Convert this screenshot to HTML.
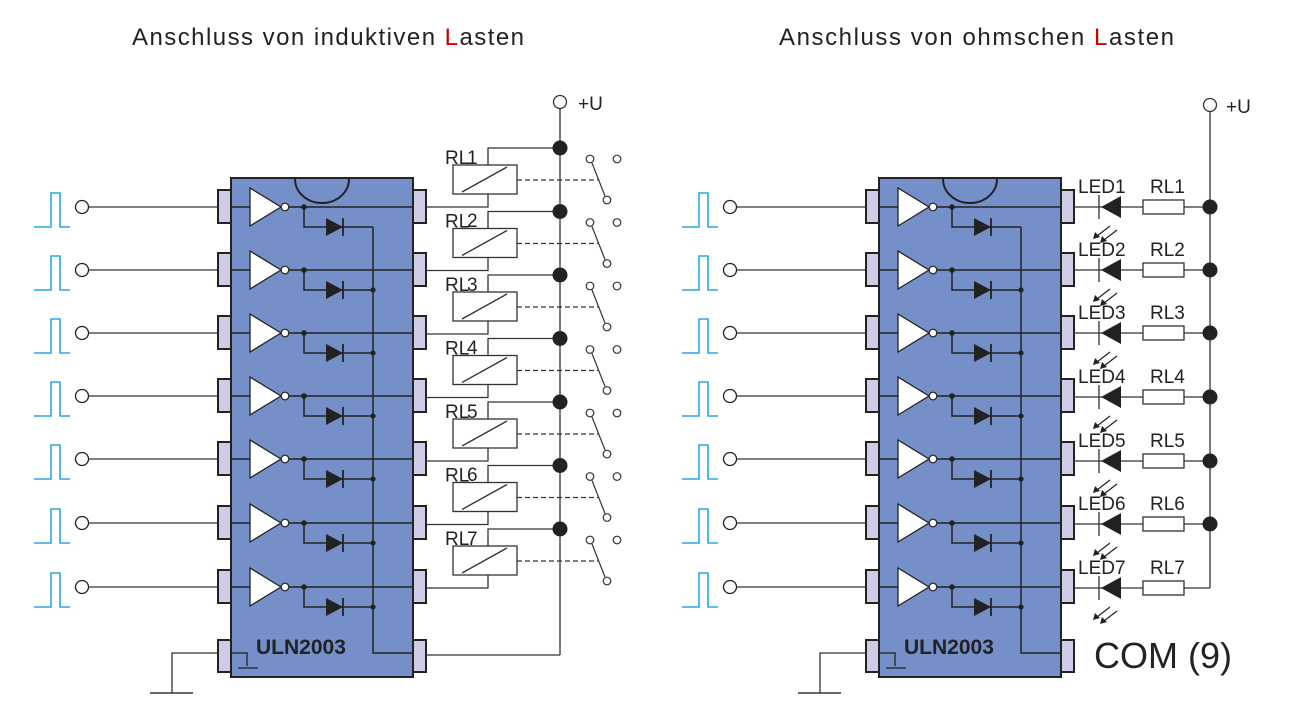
<!DOCTYPE html>
<html><head><meta charset="utf-8"><style>
html,body{margin:0;padding:0;background:#fff;}
svg{display:block;font-family:"Liberation Sans",sans-serif;}
</style></head><body>
<svg width="1290" height="725" viewBox="0 0 1290 725" xmlns="http://www.w3.org/2000/svg">
<defs>
  <g id="row">
    <polyline points="34,227 51,227 51,193 60,193 60,227 70,227" fill="none" stroke="#29a8e0" stroke-width="1.6" transform="translate(0,-207)"/>
    <circle cx="82" cy="0" r="6.5" fill="#fff" stroke="#222" stroke-width="1.3"/>
    <line x1="89" y1="0" x2="219" y2="0" stroke="#333" stroke-width="1.3"/>
    <rect x="218" y="-17" width="13" height="33" fill="#d0cce8" stroke="#222" stroke-width="2"/>
    <line x1="231" y1="0" x2="250" y2="0" stroke="#222" stroke-width="1.5"/>
    <polygon points="250,-19 250,19 281,0" fill="#fff" stroke="#222" stroke-width="1.3"/>
    <circle cx="285" cy="0" r="3.8" fill="#fff" stroke="#222" stroke-width="1.2"/>
    <line x1="289" y1="0" x2="414" y2="0" stroke="#222" stroke-width="1.5"/>
    <circle cx="304" cy="0" r="2.8" fill="#222"/>
    <polyline points="304,0 304,20 373,20" fill="none" stroke="#222" stroke-width="1.5"/>
    <polygon points="326,11 326,29 343,20" fill="#222"/>
    <line x1="343" y1="11" x2="343" y2="29" stroke="#222" stroke-width="1.8"/>
    <rect x="413" y="-17" width="13" height="33" fill="#d0cce8" stroke="#222" stroke-width="2"/>
  </g>
  <g id="chip">
    <rect x="231" y="178" width="182" height="499" fill="#7590c9" stroke="#222" stroke-width="2"/>
    <path d="M295,179 A27,24 0 0 0 349,179" fill="none" stroke="#222" stroke-width="2"/>
    <use href="#row" transform="translate(0,207)"/>
    <use href="#row" transform="translate(0,270)"/>
    <use href="#row" transform="translate(0,333)"/>
    <use href="#row" transform="translate(0,396)"/>
    <use href="#row" transform="translate(0,459)"/>
    <use href="#row" transform="translate(0,523)"/>
    <use href="#row" transform="translate(0,587)"/>
    <g fill="#222"><circle cx="373" cy="290" r="2.6"/><circle cx="373" cy="353" r="2.6"/><circle cx="373" cy="416" r="2.6"/><circle cx="373" cy="479" r="2.6"/><circle cx="373" cy="543" r="2.6"/><circle cx="373" cy="607" r="2.6"/></g>
    <polyline points="373,227 373,653 414,653" fill="none" stroke="#222" stroke-width="1.5"/>
    <rect x="218" y="640" width="13" height="32" fill="#d0cce8" stroke="#222" stroke-width="2"/>
    <rect x="413" y="640" width="13" height="32" fill="#d0cce8" stroke="#222" stroke-width="2"/>
    <polyline points="231,653 247,653 247,666" fill="none" stroke="#222" stroke-width="1.3"/>
    <line x1="238" y1="668" x2="258" y2="668" stroke="#222" stroke-width="1.3"/>
    <polyline points="218,653 172,653 172,693" fill="none" stroke="#333" stroke-width="1.3"/>
    <line x1="150" y1="693" x2="193" y2="693" stroke="#333" stroke-width="1.5"/>
    <text x="256" y="654" font-size="21" font-weight="bold" fill="#222">ULN2003</text>
  </g>
  <g id="relay">
    <text x="445" y="164" font-size="19" fill="#222">RL</text>
    <rect x="453" y="165" width="64" height="29" fill="#fff" stroke="#333" stroke-width="1.3"/>
    <line x1="462" y1="192" x2="507" y2="167" stroke="#333" stroke-width="1.3"/>
    <polyline points="488,165 488,148 560,148" fill="none" stroke="#333" stroke-width="1.3"/>
    <polyline points="488,194 488,207 426,207" fill="none" stroke="#333" stroke-width="1.3"/>
    <line x1="517" y1="180" x2="598" y2="180" stroke="#333" stroke-width="1.2" stroke-dasharray="5,3"/>
    <circle cx="590" cy="159" r="3.8" fill="#fff" stroke="#333" stroke-width="1.2"/>
    <circle cx="617" cy="159" r="3.8" fill="#fff" stroke="#333" stroke-width="1.2"/>
    <circle cx="607" cy="200" r="3.8" fill="#fff" stroke="#333" stroke-width="1.2"/>
    <line x1="592" y1="163" x2="605" y2="196" stroke="#333" stroke-width="1.2"/>
    <circle cx="560" cy="148" r="7.5" fill="#222"/>
  </g>
  <g id="ledbase">
    <line x1="1074" y1="0" x2="1210" y2="0" stroke="#333" stroke-width="1.3"/>
    <line x1="1099" y1="-12" x2="1099" y2="12" stroke="#333" stroke-width="1.3"/>
    <polygon points="1101,0 1121,-11 1121,11" fill="#222"/>
    <rect x="1143" y="-7" width="41" height="14" fill="#fff" stroke="#333" stroke-width="1.3"/>
    <g stroke="#222" stroke-width="1.2" fill="#222">
      <line x1="1110" y1="19" x2="1097" y2="29"/><line x1="1117" y1="23" x2="1104" y2="33"/>
      <polygon points="1093,32 1095,25 1100,30" stroke="none"/><polygon points="1100,36 1102,29 1107,34" stroke="none"/>
    </g>
  </g>
  <g id="led">
    <use href="#ledbase"/>
    <circle cx="1210" cy="0" r="7.5" fill="#222"/>
  </g>
</defs>

<text x="132" y="45" font-size="24" fill="#222" textLength="392" lengthAdjust="spacing">Anschluss von induktiven <tspan fill="#c00">L</tspan>asten</text>
<text x="779" y="45" font-size="24" fill="#222" textLength="395" lengthAdjust="spacing">Anschluss von ohmschen <tspan fill="#c00">L</tspan>asten</text>

<!-- LEFT -->
<use href="#chip"/>
<line x1="560" y1="108" x2="560" y2="655" stroke="#333" stroke-width="1.3"/>
<polyline points="560,655 426,655" fill="none" stroke="#333" stroke-width="1.3"/>
<circle cx="560" cy="102" r="6.5" fill="#fff" stroke="#333" stroke-width="1.3"/>
<text x="578" y="110" font-size="19" fill="#222">+U</text>
<use href="#relay"/>
<use href="#relay" transform="translate(0,63.5)"/>
<use href="#relay" transform="translate(0,127)"/>
<use href="#relay" transform="translate(0,190.5)"/>
<use href="#relay" transform="translate(0,254)"/>
<use href="#relay" transform="translate(0,317.5)"/>
<use href="#relay" transform="translate(0,381)"/>
<g font-size="19" fill="#222">
<text x="467" y="164">1</text><text x="467" y="227">2</text><text x="467" y="291">3</text><text x="467" y="354">4</text><text x="467" y="418">5</text><text x="467" y="481">6</text><text x="467" y="545">7</text>
</g>

<!-- RIGHT -->
<use href="#chip" transform="translate(648,0)"/>
<line x1="1210" y1="111" x2="1210" y2="588" stroke="#333" stroke-width="1.3"/>
<circle cx="1210" cy="105" r="6.5" fill="#fff" stroke="#333" stroke-width="1.3"/>
<text x="1226" y="113" font-size="19" fill="#222">+U</text>
<use href="#led" transform="translate(0,207)"/>
<use href="#led" transform="translate(0,270)"/>
<use href="#led" transform="translate(0,333)"/>
<use href="#led" transform="translate(0,397)"/>
<use href="#led" transform="translate(0,461)"/>
<use href="#led" transform="translate(0,524)"/>
<use href="#ledbase" transform="translate(0,588)"/>
<g font-size="19" fill="#222">
<text x="1078" y="193">LED1</text><text x="1150" y="193">RL1</text>
<text x="1078" y="256">LED2</text><text x="1150" y="256">RL2</text>
<text x="1078" y="319">LED3</text><text x="1150" y="319">RL3</text>
<text x="1078" y="383">LED4</text><text x="1150" y="383">RL4</text>
<text x="1078" y="447">LED5</text><text x="1150" y="447">RL5</text>
<text x="1078" y="510">LED6</text><text x="1150" y="510">RL6</text>
<text x="1078" y="574">LED7</text><text x="1150" y="574">RL7</text>
</g>
<text x="1094" y="668" font-size="36" fill="#222">COM (9)</text>
</svg>
</body></html>
